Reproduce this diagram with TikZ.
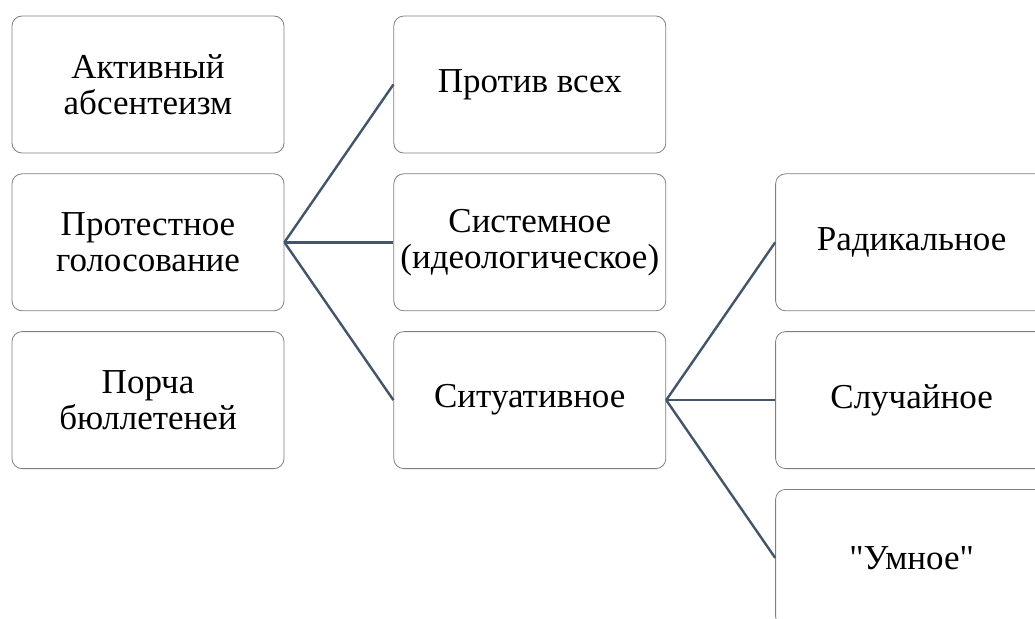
\documentclass[tikz,border=0pt]{standalone}
\usepackage{fontspec}
\newfontfamily\boxfont{Liberation Serif}
\usetikzlibrary{positioning}
\definecolor{boxline}{HTML}{7F7F7F}
\definecolor{linkline}{HTML}{44546A}
\begin{document}
\begin{tikzpicture}[x=1pt, y=-1pt,
  box/.style={draw=boxline, line width=0.8pt, rounded corners=10pt,
    minimum width=272pt, minimum height=137pt, align=center,
    font=\boxfont\fontsize{35}{36}\selectfont},
  link/.style={draw=linkline, line width=2.4pt}]
\useasboundingbox (0,0) rectangle (1035,618);
\clip (0,0) rectangle (1035,618);
% left column
\node[box] (akt) at (148,84.5) {Активный\\абсентеизм};
\node[box, below=20pt of akt] (prot) {Протестное\\голосование};
\node[box, below=20pt of prot] (porch) {Порча\\бюллетеней};
% middle column
\node[box, right=109pt of akt] (vse) {Против всех};
\node[box, below=20pt of vse] (sist) {Системное\\(идеологическое)};
\node[box, below=20pt of sist] (sit) {Ситуативное};
% right column
\node[box, right=109pt of sist] (rad) {Радикальное};
\node[box, below=20pt of rad] (sluch) {Случайное};
\node[box, below=20pt of sluch] (umn) {"Умное"};
% links
\foreach \t in {vse, sist, sit} \draw[link] (prot.east) -- (\t.west);
\foreach \t in {rad, sluch, umn} \draw[link] (sit.east) -- (\t.west);
\end{tikzpicture}
\end{document}
